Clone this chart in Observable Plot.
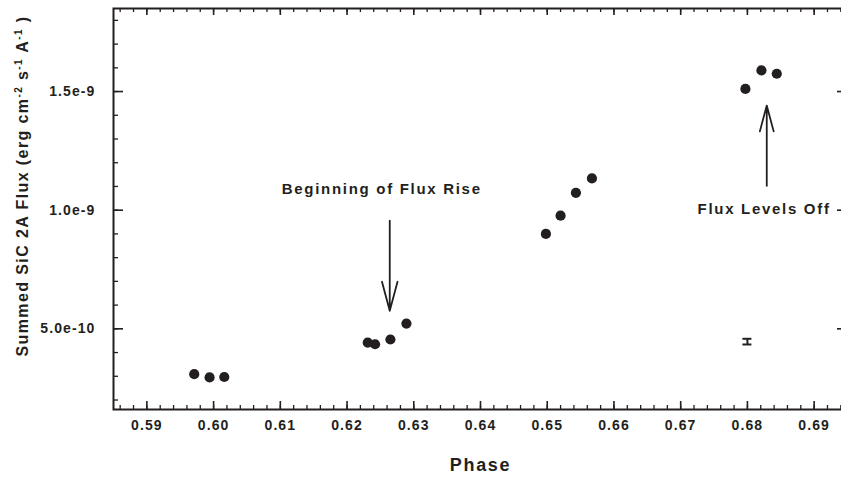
<!DOCTYPE html>
<html><head><meta charset="utf-8">
<script src="https://cdn.jsdelivr.net/npm/d3@7"></script>
<script src="https://cdn.jsdelivr.net/npm/@observablehq/plot@0.6"></script>
<style>
body{margin:0;background:#fff;}
#chart svg{display:block;}
#chart g[aria-label="x-axis tick label"] text{letter-spacing:1.1px;}
#chart g[aria-label="y-axis tick label"] text{letter-spacing:1.1px;}
#chart g[aria-label="text"] text{letter-spacing:1.7px;}
</style></head><body><div id="chart"></div>
<script>
// --- data ---
const phase = [0.5971, 0.5994, 0.6016, 0.6231, 0.6242, 0.6265, 0.6289, 0.6498, 0.6520, 0.6543, 0.6567, 0.6797, 0.6821, 0.6844];
const flux  = [3.09e-10, 2.95e-10, 2.97e-10, 4.42e-10, 4.35e-10, 4.55e-10, 5.22e-10, 9.00e-10, 9.77e-10, 1.073e-9, 1.134e-9, 1.511e-9, 1.589e-9, 1.575e-9];
const errPhase = [0.68];
const errFlux = [4.46e-10];
const errSize = [1.2e-11];
const xTicks = [0.59, 0.60, 0.61, 0.62, 0.63, 0.64, 0.65, 0.66, 0.67, 0.68, 0.69];
const xTickLabels = ["0.59", "0.60", "0.61", "0.62", "0.63", "0.64", "0.65", "0.66", "0.67", "0.68", "0.69"];
const yTicks = [5e-10, 1e-9, 1.5e-9];
const yTickLabels = ["5.0e-10", "1.0e-9", "1.5e-9"];
const noteText = ["Beginning of Flux Rise", "Flux Levels Off"];
const noteX = [0.6252, 0.6825];
const noteY = [1.089e-9, 1.005e-9];
const arrowX = [0.6264, 0.6829];
const arrowFrom = [9.56e-10, 1.103e-9];
const arrowTo = [5.76e-10, 1.441e-9];

// --- derived tables ---
const points = phase.map((p, i) => ({x: p, y: flux[i]}));
const errs = errPhase.map((p, i) => ({x: p, y: errFlux[i], e: errSize[i]}));
const notes = noteText.map((t, i) => ({t, x: noteX[i], y: noteY[i]}));
const arrows = arrowX.map((x, i) => ({x, y1: arrowFrom[i], y2: arrowTo[i]}));
const xMinor = d3.range(0, 55).map(i => 0.586 + i * 0.002);
const yMinor = d3.range(2, 19).map(i => i * 1e-10);
const xLab = new Map(xTicks.map((v, i) => [v, xTickLabels[i]]));
const yLab = new Map(yTicks.map((v, i) => [v, yTickLabels[i]]));

const W = 841, H = 483, mL = 113, mR = -6, mT = 8, mB = 74;
const pw = W - mL - mR, ph = H - mT - mB;
const ink = "#231f20";

const svg = Plot.plot({
  width: W, height: H,
  marginLeft: mL, marginRight: mR, marginTop: mT, marginBottom: mB,
  style: {fontFamily: "'Liberation Sans', Arial, sans-serif", fontWeight: "bold", color: ink, background: "#fff"},
  x: {domain: [0.585, 0.695]},
  y: {domain: [1.6e-10, 1.85e-9]},
  marks: [
    Plot.tickX(xMinor, {x: d => d, insetTop: ph - 4, stroke: ink, strokeWidth: 1.3}),
    Plot.tickX(xTicks, {x: d => d, insetTop: ph - 8, stroke: ink, strokeWidth: 1.6}),
    Plot.tickX(xMinor, {x: d => d, insetBottom: ph - 4, stroke: ink, strokeWidth: 1.3}),
    Plot.tickX(xTicks, {x: d => d, insetBottom: ph - 7, stroke: ink, strokeWidth: 1.6}),
    Plot.tickY(yMinor, {y: d => d, insetRight: pw - 5, stroke: ink, strokeWidth: 1.3}),
    Plot.tickY(yTicks, {y: d => d, insetRight: pw - 10, stroke: ink, strokeWidth: 1.6}),
    Plot.tickY(yMinor, {y: d => d, insetLeft: pw - 5, stroke: ink, strokeWidth: 1.3}),
    Plot.tickY(yTicks, {y: d => d, insetLeft: pw - 10, stroke: ink, strokeWidth: 1.6}),
    Plot.frame({stroke: ink, strokeWidth: 2}),
    Plot.axisX(xTicks, {tickSize: 0, tickPadding: 11, tickFormat: d => xLab.get(d), fontSize: 14, label: null}),
    Plot.axisY(yTicks, {tickSize: 0, tickPadding: 18, tickFormat: d => yLab.get(d), fontSize: 14, label: null}),
    Plot.dot(points, {x: "x", y: "y", r: 5.1, fill: ink, stroke: "none"}),
    Plot.ruleX(errs, {x: "x", y1: d => d.y - d.e, y2: d => d.y + d.e, stroke: ink, strokeWidth: 2}),
    Plot.ruleY(errs, {y: d => d.y - d.e, x1: "x", x2: "x", insetLeft: -4.5, insetRight: -4.5, stroke: ink, strokeWidth: 2}),
    Plot.ruleY(errs, {y: d => d.y + d.e, x1: "x", x2: "x", insetLeft: -4.5, insetRight: -4.5, stroke: ink, strokeWidth: 2}),
    Plot.arrow(arrows, {x1: "x", x2: "x", y1: "y1", y2: "y2", headLength: 31, headAngle: 30, stroke: ink, strokeWidth: 1.8}),
    Plot.text(notes, {x: "x", y: "y", text: "t", fontSize: 15, fill: ink}),
    Plot.text(["Phase"], {frameAnchor: "bottom", dy: 61, text: d => d, fontSize: 18, fill: ink})
  ]
});

// y-axis title with superscripts
const yt = d3.select(svg).append("text")
  .attr("transform", "translate(27.5,186) rotate(-90)")
  .attr("text-anchor", "middle")
  .attr("font-size", 16)
  .attr("font-weight", "bold")
  .attr("fill", ink)
  .style("letter-spacing", "1.4px");
const parts = [["Summed SiC 2A Flux (erg cm", 0], ["-2", 1], [" s", 0], ["-1", 1], [" A", 0], ["-1", 1], [" )", 0]];
let raised = false;
for (const [s, sup] of parts) {
  const ts = yt.append("tspan").text(s);
  if (sup && !raised) { ts.attr("dy", -6).attr("font-size", 10); raised = true; }
  else if (sup) { ts.attr("font-size", 10); }
  else if (raised) { ts.attr("dy", 6); raised = false; }
}
document.getElementById("chart").appendChild(svg);
</script>
</body></html>
